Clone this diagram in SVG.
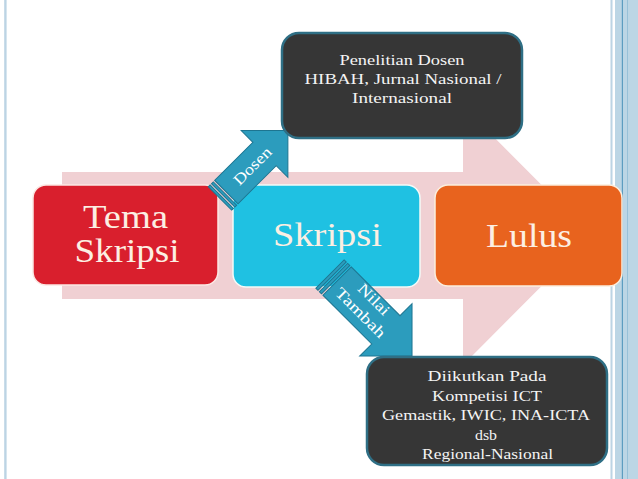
<svg xmlns="http://www.w3.org/2000/svg" width="638" height="479" viewBox="0 0 638 479">
<defs>
<style>
.big{font-family:"Liberation Serif","Times New Roman",serif;font-size:34px;fill:#fcefe3;text-anchor:middle}
.sm{font-family:"Liberation Serif","Times New Roman",serif;font-size:15.5px;fill:#f4f4f4;text-anchor:middle}
.arr{font-family:"Liberation Serif","Times New Roman",serif;font-size:15.5px;fill:#ffffff;text-anchor:middle}
.dark{fill:#363636;stroke:#2f6f85;stroke-width:2.5}
.ab{fill:#2c9cbd;stroke:#1d7591;stroke-width:1}
</style>
</defs>
<rect width="638" height="479" fill="#ffffff"/>
<!-- page borders -->
<rect x="4.2" y="0" width="2.4" height="479" fill="#bcd4e4"/>
<rect x="610.5" y="0" width="2" height="479" fill="#bcd4e4"/>
<rect x="615" y="0" width="23" height="479" fill="#bcd6e5"/>
<rect x="621.8" y="0" width="1.2" height="479" fill="#5d9dc0"/>
<rect x="627" y="0" width="0.8" height="479" fill="#8fbcd5"/>
<!-- background arrow -->
<path d="M62,172 H463 V106 L592,235.5 L463,365 V299 H62 Z" fill="#f0d0d3"/>
<g id="tema">
<rect x="33" y="185" width="185" height="100" rx="13" fill="#d91f2d" stroke="#fbe8e4" stroke-width="1.5"/>
<text class="big" x="125.5" y="228" textLength="85" lengthAdjust="spacingAndGlyphs">Tema</text>
<text class="big" x="127" y="262" textLength="105" lengthAdjust="spacingAndGlyphs">Skripsi</text>
</g>
<g id="skripsi">
<rect x="233" y="185" width="187" height="102" rx="13" fill="#1fc1e2" stroke="#f4faf8" stroke-width="1.5"/>
<text class="big" x="327.5" y="246" textLength="109" lengthAdjust="spacingAndGlyphs">Skripsi</text>
</g>
<g id="lulus">
<rect x="435" y="185" width="187" height="101" rx="13" fill="#e8631e" stroke="#fbeedd" stroke-width="1.5"/>
<text class="big" x="529" y="246.5" textLength="86" lengthAdjust="spacingAndGlyphs">Lulus</text>
</g>
<g id="connectors">
<g transform="translate(220,198.5) rotate(-45)">
<rect class="ab" x="0" y="-16.5" width="2.5" height="33"/>
<rect class="ab" x="4.5" y="-16.5" width="2.5" height="33"/>
<path class="ab" d="M9,-16.5 H63 V-33 L96,0 L63,33 V16.5 H9 Z"/>
<text class="arr" x="46" y="5" textLength="47" lengthAdjust="spacingAndGlyphs">Dosen</text>
</g>
<g transform="translate(330,274) rotate(45)">
<rect class="ab" x="0" y="-20" width="3" height="40"/>
<rect class="ab" x="5" y="-20" width="3" height="40"/>
<path class="ab" d="M10,-20 H79 V-37 L116,0 L79,37 V20 H10 Z"/>
<text class="arr" x="49" y="-8" textLength="38" lengthAdjust="spacingAndGlyphs">Nilai</text>
<text class="arr" x="49" y="11" textLength="64" lengthAdjust="spacingAndGlyphs">Tambah</text>
</g>
</g>
<g id="penelitian">
<rect class="dark" x="282" y="33" width="240" height="105" rx="17"/>
<text class="sm" x="402" y="65" textLength="125" lengthAdjust="spacingAndGlyphs">Penelitian Dosen</text>
<text class="sm" x="403" y="84" textLength="197" lengthAdjust="spacingAndGlyphs">HIBAH, Jurnal Nasional /</text>
<text class="sm" x="402" y="103" textLength="100" lengthAdjust="spacingAndGlyphs">Internasional</text>
</g>
<g id="kompetisi">
<rect class="dark" x="367" y="357" width="240" height="108" rx="17"/>
<text class="sm" x="487" y="381" textLength="119" lengthAdjust="spacingAndGlyphs">Diikutkan Pada</text>
<text class="sm" x="487" y="401" textLength="110" lengthAdjust="spacingAndGlyphs">Kompetisi ICT</text>
<text class="sm" x="486" y="420" textLength="208" lengthAdjust="spacingAndGlyphs">Gemastik, IWIC, INA-ICTA</text>
<text class="sm" x="486" y="440" textLength="22" lengthAdjust="spacingAndGlyphs">dsb</text>
<text class="sm" x="487.5" y="459" textLength="131" lengthAdjust="spacingAndGlyphs">Regional-Nasional</text>
</g>
</svg>
